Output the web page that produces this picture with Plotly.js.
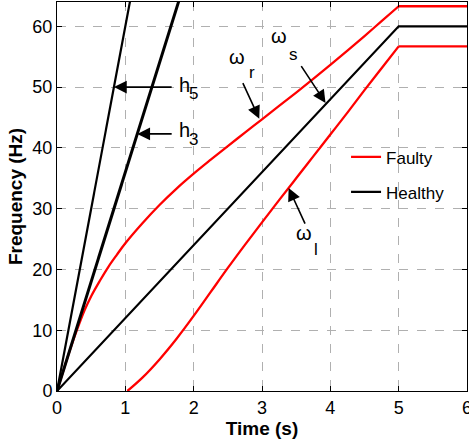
<!DOCTYPE html>
<html>
<head>
<meta charset="utf-8">
<script src="https://cdn.plot.ly/plotly-3.0.1.min.js"></script>
<style>
  html, body { margin: 0; padding: 0; background: #fff; }
  #chart { width: 469px; height: 439px; }
</style>
</head>
<body>
<div id="chart"></div>
<script>
// ---- data ----
// Upper faulty curve (omega_r), ramp part
const tFaultUpper = [0, 0.1, 0.2, 0.3, 0.4, 0.5, 0.625, 0.75, 0.875, 1, 1.25, 1.5, 1.75, 2, 2.25, 2.5, 2.75, 3, 3.25, 3.5, 3.75, 4, 4.25, 4.5, 4.75, 5];
const faultUpper  = [0, 3.6, 7.1, 10.3, 13.2, 15.6, 18.1, 20.4, 22.4, 24.3, 27.6, 30.6, 33.3, 35.75, 38.05, 40.3, 42.5, 44.7, 46.9, 49.1, 51.35, 53.65, 56.0, 58.4, 60.85, 63.3];
// Lower faulty curve (omega_l), ramp part
const tFaultLower = [1.03, 1.25, 1.5, 1.75, 2, 2.25, 2.5, 2.75, 3, 3.25, 3.5, 3.75, 4, 4.25, 4.5, 4.75, 5];
const faultLower  = [0, 2.2, 5.2, 8.6, 12.35, 16.3, 20.25, 24.05, 27.75, 31.4, 35.0, 38.6, 42.2, 45.8, 49.5, 53.1, 56.7];
// Steady-state part (t = 5 .. 6)
const tHold = [5, 6];
const faultUpperHold = [63.3, 63.3];
const faultLowerHold = [56.7, 56.7];
// Healthy (omega_s)
const tHealthy = [0, 5, 6];
const healthy  = [0, 60, 60];
// Harmonics h3, h5
const tH3 = [0, 2];
const h3  = [0, 72];
const tH5 = [0, 1.2];
const h5  = [0, 72];

const xTicks = [0, 1, 2, 3, 4, 5, 6];
const yTicks = [0, 10, 20, 30, 40, 50, 60];

const RED = '#ff0000';
const BLACK = '#000000';
const FONT = 'Liberation Sans, Arial, Helvetica, sans-serif';

const traces = [
  { x: tFaultUpper, y: faultUpper, mode: 'lines', name: 'Faulty', legendgroup: 'f',
    line: { color: RED, width: 2.3, shape: 'spline', smoothing: 1 } },
  { x: tHold, y: faultUpperHold, mode: 'lines', name: 'Faulty', legendgroup: 'f', showlegend: false,
    line: { color: RED, width: 2.3 } },
  { x: tFaultLower, y: faultLower, mode: 'lines', name: 'Faulty', legendgroup: 'f', showlegend: false,
    line: { color: RED, width: 2.3, shape: 'spline', smoothing: 1 } },
  { x: tHold, y: faultLowerHold, mode: 'lines', name: 'Faulty', legendgroup: 'f', showlegend: false,
    line: { color: RED, width: 2.3 } },
  { x: tHealthy, y: healthy, mode: 'lines', name: 'Healthy', legendgroup: 'h',
    line: { color: BLACK, width: 2.2 } },
  { x: tH3, y: h3, mode: 'lines', name: 'h3', showlegend: false,
    line: { color: BLACK, width: 3 } },
  { x: tH5, y: h5, mode: 'lines', name: 'h5', showlegend: false,
    line: { color: BLACK, width: 2.2 } }
];

// arrow from tail (ax, ay) to tip (x, y)
function arrow(x, y, ax, ay) {
  return { x: x, y: y, ax: ax, ay: ay, axref: 'x', ayref: 'y', xref: 'x', yref: 'y',
    text: '', showarrow: true, arrowhead: 2, arrowsize: 1.6, arrowwidth: 1.6, arrowcolor: BLACK,
    standoff: 0, startstandoff: 0 };
}
// text centred at (x, y)
function label(x, y, text, size) {
  return { x: x, y: y, xref: 'x', yref: 'y', text: text, showarrow: false,
    xanchor: 'center', yanchor: 'middle', borderpad: 0,
    font: { family: FONT, size: size, color: BLACK } };
}

const annotations = [
  arrow(0.833, 50, 1.70, 50),
  arrow(1.175, 42.3, 1.70, 42.3),
  arrow(2.96, 44.8, 2.71, 50.9),
  arrow(3.93, 47.4, 3.56, 53.7),
  arrow(3.39, 33.4, 3.64, 27.3),
  label(1.87, 50.4, 'h', 20),  label(2.00, 48.9, '5', 17),
  label(1.87, 43.0, 'h', 20),  label(2.00, 41.35, '3', 17),
  label(2.632, 54.94, 'ω', 20), label(2.852, 52.47, 'r', 17),
  label(3.25, 58.4, 'ω', 20),  label(3.46, 55.35, 's', 17),
  label(3.614, 25.95, 'ω', 20), label(3.79, 23.3, 'l', 17)
];

const axisCommon = {
  showline: true, linecolor: BLACK, linewidth: 1, mirror: 'ticks',
  ticks: 'inside', ticklen: 5, tickcolor: BLACK, tickwidth: 1,
  showgrid: true, gridcolor: '#b0b0b0', griddash: 'dash', gridwidth: 1,
  zeroline: false, ticklabeloverflow: 'allow',
  tickfont: { family: FONT, size: 18, color: BLACK }
};

const layout = {
  width: 469, height: 439,
  margin: { l: 57, r: 2, t: 2, b: 48 },
  paper_bgcolor: '#ffffff', plot_bgcolor: '#ffffff',
  font: { family: FONT, color: BLACK },
  showlegend: true,
  legend: { x: 0.705, y: 0.647, xanchor: 'left', yanchor: 'top', bgcolor: 'rgba(0,0,0,0)',
    borderwidth: 0, font: { family: FONT, size: 17, color: BLACK }, traceorder: 'grouped',
    tracegroupgap: 10 },
  xaxis: Object.assign({}, axisCommon, {
    range: [0, 6], tickvals: xTicks, ticktext: xTicks.map(String),
    title: { text: '<b>Time (s)</b>', font: { family: FONT, size: 19, color: BLACK }, standoff: 0 }
  }),
  yaxis: Object.assign({}, axisCommon, {
    range: [0, 64], tickvals: yTicks, ticktext: yTicks.map(String),
    title: { text: '<b>Frequency (Hz)</b>', font: { family: FONT, size: 19, color: BLACK }, standoff: 4 }
  }),
  annotations: annotations
};

Plotly.newPlot('chart', traces, layout, { displayModeBar: false, staticPlot: true });
</script>
</body>
</html>
